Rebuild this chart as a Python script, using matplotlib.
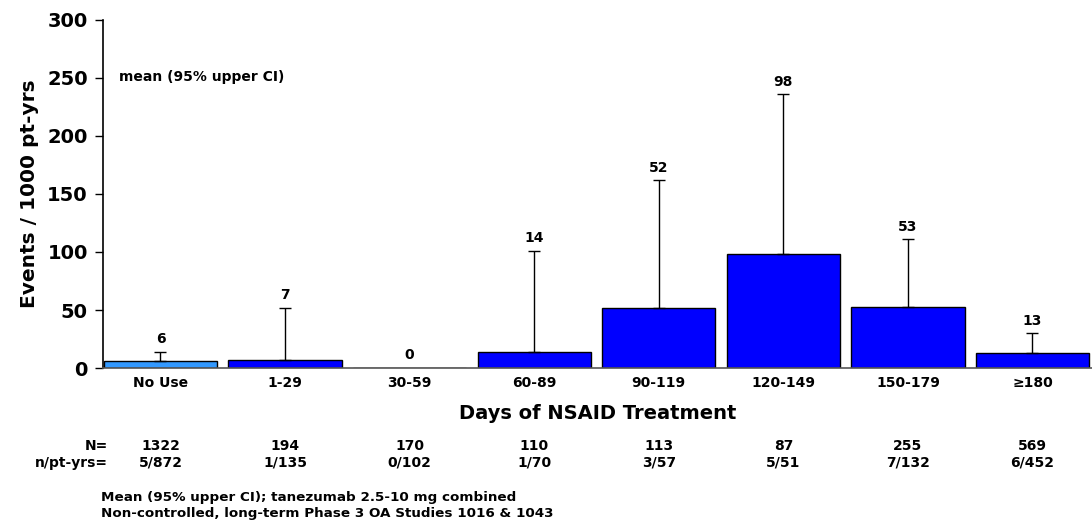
import numpy as np
import matplotlib
matplotlib.use("Agg")
import matplotlib.pyplot as plt

# data
categories = ["No Use", "1-29", "30-59", "60-89", "90-119", "120-149", "150-179", "\u2265180"]
means = [6, 7, 0, 14, 52, 98, 53, 13]
upper_ci = [14, 52, 0, 101, 162, 236, 111, 30]
n_total = ["1322", "194", "170", "110", "113", "87", "255", "569"]
n_ptyrs = ["5/872", "1/135", "0/102", "1/70", "3/57", "5/51", "7/132", "6/452"]
colors = ["#3399FF"] + ["#0000FF"] * 7

plt.rcParams['font.family'] = ['DejaVu Sans']

fig = plt.figure(figsize=(10.92, 5.21), dpi=100)
ax = fig.add_axes([103 / 1092, 1 - 368 / 521, 1 - 103 / 1092, (368 - 20) / 521])

x = np.arange(len(categories))
means = np.array(means)
upper_ci = np.array(upper_ci)

ax.bar(x, means, width=0.91, color=colors, edgecolor="black", linewidth=1, zorder=2)

# only the upper half of the CI is drawn
has_ci = upper_ci > means
ax.errorbar(x[has_ci], means[has_ci],
            yerr=[np.zeros(has_ci.sum()), (upper_ci - means)[has_ci]],
            fmt="none", ecolor="black", elinewidth=1, capsize=4, capthick=1, zorder=3)

for xi, m, u in zip(x, means, upper_ci):
    top = max(m, u)
    ax.annotate(str(m), (xi, top), xytext=(0, 4), textcoords="offset points",
                ha="center", va="bottom", fontsize=10, fontweight="bold")

ax.set_xlim(-0.4616, 7.478)
ax.set_ylim(0, 300)
ax.set_yticks([0, 50, 100, 150, 200, 250, 300])
ax.set_xticks(x)
ax.set_xticklabels(categories, fontsize=10, fontweight="bold")
ax.tick_params(axis="x", length=0, pad=6)
ax.tick_params(axis="y", length=6, width=1, direction="out", labelsize=14, pad=5)
for lab in ax.get_yticklabels():
    lab.set_fontweight("bold")

ax.spines["top"].set_visible(False)
ax.spines["right"].set_visible(False)
ax.spines["bottom"].set_color("#555555")
ax.spines["bottom"].set_linewidth(1.2)
ax.spines["left"].set_linewidth(1.2)

ax.set_ylabel("Events / 1000 pt-yrs", fontsize=14.5, fontweight="bold", labelpad=6)
ax.set_xlabel("Days of NSAID Treatment", fontsize=14, fontweight="bold", labelpad=10)

fig.text(119 / 1092, 1 - 77 / 521, "mean (95% upper CI)", fontsize=10, fontweight="bold",
         va="center", ha="left")

# N rows under the chart
fig.text(108 / 1092, 1 - 446 / 521, "N=", fontsize=10, fontweight="bold", ha="right", va="center")
fig.text(108 / 1092, 1 - 463 / 521, "n/pt-yrs=", fontsize=10, fontweight="bold", ha="right", va="center")
for xi, nt, npy in zip(x, n_total, n_ptyrs):
    xf = fig.transFigure.inverted().transform(ax.transData.transform((xi, 0)))[0]
    fig.text(xf, 1 - 446 / 521, nt, fontsize=10, fontweight="bold", ha="center", va="center")
    fig.text(xf, 1 - 463 / 521, npy, fontsize=10, fontweight="bold", ha="center", va="center")

fig.text(101 / 1092, 1 - 498 / 521, "Mean (95% upper CI); tanezumab 2.5-10 mg combined",
         fontsize=9.7, fontweight="bold", ha="left", va="center")
fig.text(101 / 1092, 1 - 513 / 521, "Non-controlled, long-term Phase 3 OA Studies 1016 & 1043",
         fontsize=9.7, fontweight="bold", ha="left", va="center")

fig.savefig("out.png", dpi=100)
